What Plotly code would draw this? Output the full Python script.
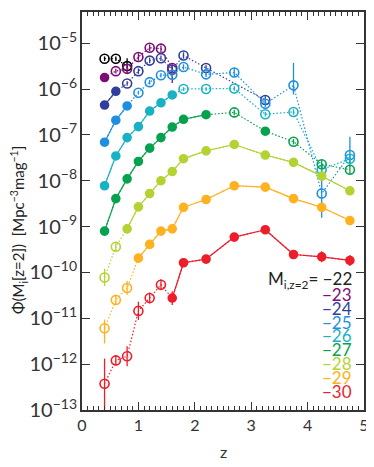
import plotly.graph_objects as go

# redshift bins
z_all = [0.4, 0.6, 0.8, 1.0, 1.2, 1.4, 1.6, 1.8, 2.2, 2.7, 3.25, 3.75, 4.25, 4.75]

# log10 Phi per magnitude bin, 1 = filled (complete) point, 0 = open
m22_z = z_all[:3]
m22_phi = [-5.34, -5.34, -5.50]
m22_fill = [0, 0, 0]
m22_eup = [0.05, 0.05, 0.17]
m22_edn = [0.05, 0.05, 0.05]

m23_z = z_all[:7]
m23_phi = [-5.75, -5.61, -5.56, -5.30, -5.10, -5.12, -5.54]
m23_fill = [1, 0, 0, 0, 0, 0, 0]
m23_eup = [0.04, 0.05, 0.10, 0.08, 0.07, 0.07, 0.08]
m23_edn = [0.04, 0.05, 0.10, 0.08, 0.07, 0.07, 0.33]

m24_z = z_all[:9] + [3.25]
m24_phi = [-6.35, -6.05, -5.88, -5.61, -5.38, -5.33, -5.58, -5.27, -5.54, -6.24]
m24_fill = [1, 1, 0, 0, 0, 0, 0, 0, 0, 0]
m24_eup = [0.03, 0.04, 0.05, 0.06, 0.06, 0.06, 0.06, 0.07, 0.06, 0.08]
m24_edn = [0.03, 0.04, 0.05, 0.06, 0.06, 0.06, 0.06, 0.07, 0.06, 0.08]

m25_z = z_all
m25_phi = [-7.16, -6.68, -6.37, -6.08, -5.85, -5.70, -5.69, -5.52, -5.68, -5.64,
           -6.32, -5.92, -8.28, -7.44]
m25_fill = [1, 1, 1, 0, 0, 0, 0, 0, 0, 0, 0, 0, 0, 0]
m25_eup = [0.03, 0.03, 0.04, 0.04, 0.05, 0.05, 0.05, 0.06, 0.06, 0.10, 0.08, 0.49, 0.64, 0.40]
m25_edn = [0.03, 0.03, 0.04, 0.04, 0.05, 0.05, 0.05, 0.06, 0.06, 0.10, 0.08, 0.20, 0.53, 0.25]

m26_z = z_all
m26_phi = [-8.11, -7.46, -7.06, -6.82, -6.48, -6.30, -6.13, -6.00, -6.00, -5.99,
           -6.55, -6.50, -7.76, -7.52]
m26_fill = [1, 1, 1, 1, 1, 1, 1, 0, 0, 0, 0, 0, 0, 0]
m26_eup = [0.04, 0.03, 0.03, 0.03, 0.03, 0.03, 0.03, 0.04, 0.04, 0.05, 0.05, 0.06, 0.10, 0.10]
m26_edn = m26_eup

m27_z = z_all
m27_phi = [-9.10, -8.39, -7.96, -7.58, -7.29, -7.06, -6.83, -6.66, -6.56, -6.51,
           -6.92, -7.15, -7.64, -7.76]
m27_fill = [1, 1, 1, 1, 1, 1, 1, 1, 1, 0, 1, 0, 0, 0]
m27_eup = [0.05, 0.04, 0.03, 0.03, 0.03, 0.03, 0.03, 0.03, 0.03, 0.06, 0.04, 0.06, 0.10, 0.10]
m27_edn = m27_eup

m28_z = z_all
m28_phi = [-10.11, -9.44, -9.05, -8.57, -8.28, -8.00, -7.80, -7.52, -7.35, -7.21,
           -7.44, -7.60, -7.90, -8.22]
m28_fill = [0, 0, 1, 1, 1, 1, 1, 1, 1, 1, 1, 1, 1, 1]
m28_eup = [0.19, 0.10, 0.05, 0.04, 0.04, 0.03, 0.03, 0.03, 0.03, 0.03, 0.03, 0.04, 0.05, 0.06]
m28_edn = m28_eup

m29_z = z_all
m29_phi = [-11.22, -10.60, -10.34, -9.69, -9.39, -9.10, -9.05, -8.58, -8.41, -8.11,
           -8.14, -8.39, -8.58, -8.87]
m29_fill = [0, 0, 0, 1, 1, 1, 1, 1, 1, 1, 1, 1, 1, 1]
m29_eup = [0.19, 0.10, 0.15, 0.06, 0.05, 0.04, 0.04, 0.04, 0.04, 0.03, 0.04, 0.05, 0.10, 0.07]
m29_edn = [0.33, 0.10, 0.15, 0.06, 0.05, 0.04, 0.04, 0.04, 0.04, 0.03, 0.04, 0.05, 0.10, 0.07]

m30_z = z_all
m30_phi = [-12.43, -11.92, -11.83, -10.84, -10.56, -10.27, -10.56, -9.79, -9.71, -9.23,
           -9.07, -9.61, -9.66, -9.74]
m30_fill = [0, 0, 0, 0, 0, 0, 1, 1, 1, 1, 1, 1, 1, 1]
m30_eup = [0.55, 0.10, 0.22, 0.20, 0.12, 0.12, 0.15, 0.06, 0.06, 0.05, 0.05, 0.10, 0.12, 0.12]
m30_edn = [1.00, 0.10, 0.22, 0.20, 0.12, 0.12, 0.15, 0.06, 0.06, 0.05, 0.05, 0.10, 0.12, 0.12]

labels = ['22', '23', '24', '25', '26', '27', '28', '29', '30']
colors = ['#000000', '#7d0c74', '#303f9c', '#1e8fe0', '#19b2c4',
          '#06a24e', '#b3d334', '#ffb120', '#ee1d2a']

series = [
    (m22_z, m22_phi, m22_fill, m22_eup, m22_edn),
    (m23_z, m23_phi, m23_fill, m23_eup, m23_edn),
    (m24_z, m24_phi, m24_fill, m24_eup, m24_edn),
    (m25_z, m25_phi, m25_fill, m25_eup, m25_edn),
    (m26_z, m26_phi, m26_fill, m26_eup, m26_edn),
    (m27_z, m27_phi, m27_fill, m27_eup, m27_edn),
    (m28_z, m28_phi, m28_fill, m28_eup, m28_edn),
    (m29_z, m29_phi, m29_fill, m29_eup, m29_edn),
    (m30_z, m30_phi, m30_fill, m30_eup, m30_edn),
]

fig = go.Figure()

for (zz, lp, fill, eu, ed), c in zip(series, colors):
    y = [10 ** v for v in lp]
    # dotted line through every point
    fig.add_trace(go.Scatter(x=zz, y=y, mode='lines', showlegend=False, hoverinfo='skip',
                             line=dict(color=c, width=1.2, dash='1.5px,2px')))
    # solid line between consecutive filled points
    sx, sy = [], []
    for i in range(len(zz) - 1):
        if fill[i] and fill[i + 1]:
            sx += [zz[i], zz[i + 1], None]
            sy += [y[i], y[i + 1], None]
    if sx:
        fig.add_trace(go.Scatter(x=sx, y=sy, mode='lines', showlegend=False, hoverinfo='skip',
                                 line=dict(color=c, width=1.2)))
    up = [10 ** (v + u) - 10 ** v for v, u in zip(lp, eu)]
    dn = [10 ** v - 10 ** (v - d) for v, d in zip(lp, ed)]
    for flag, sym, size in [(1, 'circle', 8), (0, 'circle-open', 9)]:
        idx = [i for i in range(len(zz)) if fill[i] == flag]
        if not idx:
            continue
        fig.add_trace(go.Scatter(
            x=[zz[i] for i in idx], y=[y[i] for i in idx], mode='markers', showlegend=False,
            marker=dict(symbol=sym, size=size, color=c, line=dict(color=c, width=1.6)),
            error_y=dict(type='data', symmetric=False, array=[up[i] for i in idx],
                         arrayminus=[dn[i] for i in idx], color=c, thickness=1.3, width=0),
        ))

# plot area on screen: x 82..364, y 10..410 (page body adds 8px)
def px_x(p):
    return (p - 82) / 282.0

def px_y(p):
    return (410 - p) / 400.0

fig.add_annotation(x=px_x(354), y=px_y(279), xref='paper', yref='paper', xanchor='right',
                   yanchor='middle', showarrow=False,
                   text='M<sub>i,z=2</sub>= −22', font=dict(size=17, color='#222'))
for k, (lab, c) in enumerate(zip(labels[1:], colors[1:])):
    fig.add_annotation(x=px_x(354), y=px_y(293.6 + 14.0 * k), xref='paper', yref='paper',
                       xanchor='right', yanchor='middle', showarrow=False,
                       text='−' + lab, font=dict(size=17, color=c))

fig.add_annotation(x=px_x(19), y=px_y(229), xref='paper', yref='paper', textangle=-90,
                   xanchor='center', yanchor='middle', showarrow=False,
                   text='Φ(M<sub>i</sub>[z=2])  [Mpc<sup>−3</sup>mag<sup>−1</sup>]',
                   font=dict(size=15, color='#222'))

fig.add_annotation(x=px_x(223), y=px_y(452), xref='paper', yref='paper',
                   xanchor='center', yanchor='middle', showarrow=False,
                   text='z', font=dict(size=16, color='#333'))

fig.update_xaxes(range=[0, 5], dtick=1, ticks='inside', ticklen=8, tickwidth=1.2,
                 tickcolor='#333', showline=True, linecolor='#333', linewidth=1.5,
                 mirror='allticks', showgrid=False, zeroline=False,
                 minor=dict(dtick=0.1, ticks='inside', ticklen=4, tickcolor='#333', tickwidth=1),
                 tickfont=dict(size=16, color='#333'))
fig.update_yaxes(type='log', range=[-13.002, -4.32], dtick=1, exponentformat='power',
                 ticks='inside', ticklen=8, tickwidth=1.2, tickcolor='#333',
                 showline=True, linecolor='#333', linewidth=1.5, mirror='allticks',
                 showgrid=False, zeroline=False, tickfont=dict(size=16, color='#333'))

fig.update_layout(width=366, height=459, margin=dict(l=74, r=10, t=2, b=57),
                  plot_bgcolor='white', paper_bgcolor='white',
                  font=dict(family='Lato', color='#333'), showlegend=False)

fig.write_html('out.html')
